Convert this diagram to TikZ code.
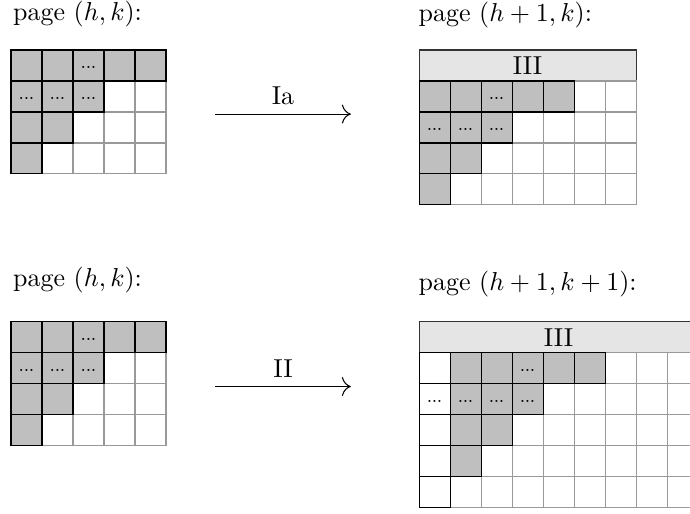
\documentclass[tikz,border=0pt]{standalone}
\usepackage{tikz}
\usetikzlibrary{arrows.meta}
\newcommand{\celldots}{.\kern-.3pt.\kern-.3pt.}

\begin{document}
\begin{tikzpicture}[x=0.42cm,y=-0.42cm,
cell/.style={draw=black!40,fill=white},
shaded/.style={draw=black,fill=gray!50},
wcell/.style={draw=black,fill=white},
bar/.style={draw=black!80,fill=gray!20},
dots/.style={font=\scriptsize,inner sep=0pt},
lab/.style={anchor=base west,inner sep=0pt},
trans/.style={-{Computer Modern Rightarrow[scale=1.4]}}]
\useasboundingbox (0,0) rectangle (22.26,16.58);

% top left: page (h,k)
\node[lab] (lab hk top) at (0.41,0.67) {page $(h,k)$:};
\begin{scope}[shift={(0.355,1.613)}]
\foreach \c in {0,...,4}
  \foreach \r in {0,...,3}
    \draw[cell] (\c,\r) rectangle ++(1,1);
\foreach \c/\r in {0/0,1/0,2/0,3/0,4/0,0/1,1/1,2/1,0/2,1/2,0/3}
  \draw[shaded] (\c,\r) rectangle ++(1,1);
\foreach \c/\r in {2/0,0/1,1/1,2/1}
  \node[dots] at (\c+.5,\r+.55) {\celldots};
\end{scope}

% top right: page (h+1,k)
\node[lab] (lab h1k) at (13.49,0.70) {page $(h+1,k)$:};
\begin{scope}[shift={(13.52,2.613)}]
\draw[bar] (0,-1) rectangle (7,0) node[midway] (bar top) {III};
\foreach \c in {0,...,6}
  \foreach \r in {0,...,3}
    \draw[cell] (\c,\r) rectangle ++(1,1);
\foreach \c/\r in {0/0,1/0,2/0,3/0,4/0,0/1,1/1,2/1,0/2,1/2,0/3}
  \draw[shaded] (\c,\r) rectangle ++(1,1);
\foreach \c/\r in {2/0,0/1,1/1,2/1}
  \node[dots] at (\c+.5,\r+.55) {\celldots};
\end{scope}

% bottom left: page (h,k)
\node[lab] (lab hk bot) at (0.41,9.25) {page $(h,k)$:};
\begin{scope}[shift={(0.355,10.387)}]
\foreach \c in {0,...,4}
  \foreach \r in {0,...,3}
    \draw[cell] (\c,\r) rectangle ++(1,1);
\foreach \c/\r in {0/0,1/0,2/0,3/0,4/0,0/1,1/1,2/1,0/2,1/2,0/3}
  \draw[shaded] (\c,\r) rectangle ++(1,1);
\foreach \c/\r in {2/0,0/1,1/1,2/1}
  \node[dots] at (\c+.5,\r+.55) {\celldots};
\end{scope}

% bottom right: page (h+1,k+1)
\node[lab] (lab h1k1) at (13.49,9.38) {page $(h+1,k+1)$:};
\begin{scope}[shift={(13.52,11.387)}]
\draw[bar] (0,-1) rectangle (9,0) node[midway] (bar bot) {III};
\foreach \c in {0,...,8}
  \foreach \r in {0,...,4}
    \draw[cell] (\c,\r) rectangle ++(1,1);
\foreach \r in {0,...,4}
  \draw[wcell] (0,\r) rectangle ++(1,1);
\foreach \c/\r in {1/0,2/0,3/0,4/0,5/0,1/1,2/1,3/1,1/2,2/2,1/3}
  \draw[shaded] (\c,\r) rectangle ++(1,1);
\foreach \c/\r in {3/0,0/1,1/1,2/1,3/1}
  \node[dots] at (\c+.5,\r+.55) {\celldots};
\end{scope}

% transitions
\coordinate (ia from) at (6.94,3.68);
\coordinate (ia to) at (11.32,3.68);
\coordinate (ii from) at (6.94,12.47);
\coordinate (ii to) at (11.32,12.47);
\draw[trans] (ia from) -- (ia to) node[midway,above] (lab ia) {Ia};
\draw[trans] (ii from) -- (ii to) node[midway,above] (lab ii) {II};
\end{tikzpicture}
\end{document}
